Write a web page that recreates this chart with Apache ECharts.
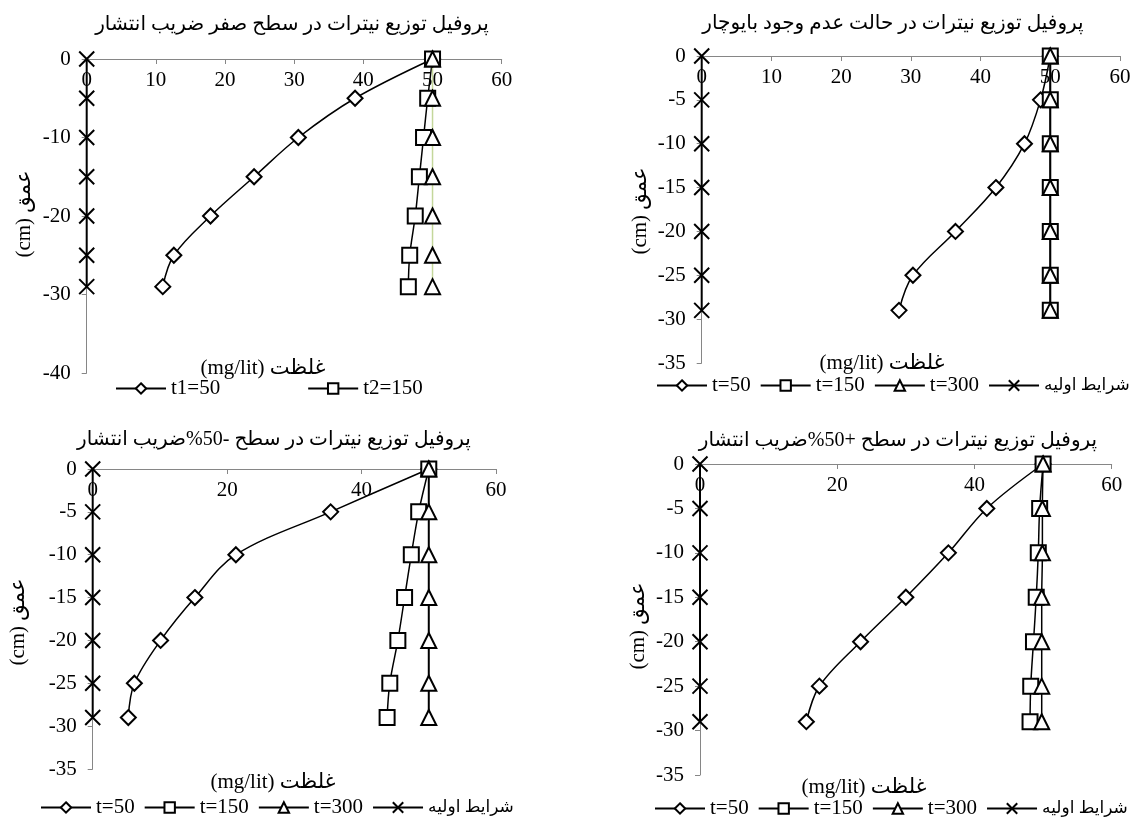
<!DOCTYPE html>
<html>
<head>
<meta charset="utf-8">
<script src="https://cdn.jsdelivr.net/npm/echarts@6/dist/echarts.min.js"></script>
<style>
  html, body { margin: 0; padding: 0; background: #fff; }
  #chart { width: 1133px; height: 818px; }
</style>
</head>
<body>
<div id="chart"></div>
<script>
// Sampling depths (cm), shared by every profile
const depths = [0, -5, -10, -15, -20, -25, -29];

// Nitrate concentration (mg/lit) – zero diffusion coefficient level
const zeroT50  = [50, 38.8, 30.6, 24.2, 17.9, 12.6, 11.0];
const zeroT150 = [50, 49.3, 48.7, 48.1, 47.5, 46.7, 46.5];
const zeroT300 = [50, 50, 50, 50, 50, 50, 50];
const zeroInit = [0, 0, 0, 0, 0, 0, 0];

// Without biochar
const noBioT50  = [50, 48.6, 46.3, 42.2, 36.4, 30.3, 28.3];
const noBioT150 = [50, 50, 50, 50, 50, 50, 50];
const noBioT300 = [50, 50, 50, 50, 50, 50, 50];
const noBioInit = [0, 0, 0, 0, 0, 0, 0];

// Diffusion coefficient -50%
const minusT50  = [50, 35.4, 21.3, 15.2, 10.1, 6.2, 5.3];
const minusT150 = [50, 48.5, 47.4, 46.4, 45.4, 44.2, 43.8];
const minusT300 = [50, 50, 50, 50, 50, 50, 50];
const minusInit = [0, 0, 0, 0, 0, 0, 0];

// Diffusion coefficient +50%
const plusT50  = [50, 41.8, 36.2, 30.0, 23.4, 17.4, 15.5];
const plusT150 = [50, 49.5, 49.3, 49.0, 48.6, 48.2, 48.1];
const plusT300 = [50, 49.9, 49.9, 49.8, 49.8, 49.8, 49.8];
const plusInit = [0, 0, 0, 0, 0, 0, 0];

// Texts
const panelTitles = [
  'پروفیل توزیع نیترات در سطح صفر ضریب انتشار',
  'پروفیل توزیع نیترات در حالت عدم وجود بایوچار',
  'پروفیل توزیع نیترات در سطح -50%ضریب انتشار',
  'پروفیل توزیع نیترات در سطح +50%ضریب انتشار'
];
const xAxisTitle = '(mg/lit) غلظت';
const yAxisTitle = '(cm) عمق';
const legendZero = ['t1=50', 't2=150'];
const legendMain = ['t=50', 't=150', 't=300', 'شرایط اولیه'];

// Axis ranges and tick steps per panel (TL, TR, BL, BR)
const xMin = 0, xMax = 60, yMax = 0;
const xSteps = [10, 10, 20, 20];
const yMins = [-40, -35, -35, -35];
const ySteps = [10, 5, 5, 5];

const FONT = '"Liberation Serif", "DejaVu Sans", serif';
const FS = 21;
const TITLE_FS = 20;
const AXIS_GRAY = '#868686';

// Panel placement on the page
const layout = [
  { grid: { left: 86.7, top: 59, width: 415, height: 314 },
    title: [292, 24.5], xTitle: [263, 368], yTitle: [24.4, 214],
    legend: { left: 115, top: 378, itemGap: 87 } },
  { grid: { left: 701.7, top: 56, width: 418.3, height: 307 },
    title: [893, 24], xTitle: [882, 363], yTitle: [640.4, 211],
    legend: { left: 656, top: 375, itemGap: 9 } },
  { grid: { left: 92.7, top: 469, width: 403.3, height: 300 },
    title: [274, 439.5], xTitle: [273, 782], yTitle: [18.5, 622],
    legend: { left: 40, top: 797, itemGap: 9 } },
  { grid: { left: 700, top: 464, width: 411.7, height: 311 },
    title: [898, 441], xTitle: [864, 787], yTitle: [638.9, 626],
    legend: { left: 654, top: 798, itemGap: 9 } }
];

const CROSS = 'path://M0,0L10,10M10,0L0,10';

function pairs(vals) {
  return vals.map((v, i) => [v, depths[i]]);
}

function profile(name, idx, vals, symbol, extra) {
  return Object.assign({
    type: 'line',
    name: name,
    xAxisIndex: idx,
    yAxisIndex: idx,
    data: pairs(vals),
    symbol: symbol,
    symbolSize: 15,
    smooth: 0.35,
    clip: false,
    lineStyle: { color: '#000', width: 1.5 },
    itemStyle: { color: '#fff', borderColor: '#000', borderWidth: 2 },
    emphasis: { disabled: true },
    animation: false
  }, extra || {});
}

const thick = { lineStyle: { color: '#000', width: 2 } };

const series = [
  // zero diffusion coefficient
  profile('t1=50', 0, zeroT50, 'diamond'),
  profile('t2=150', 0, zeroT150, 'rect'),
  profile('t3=300', 0, zeroT300, 'triangle', { lineStyle: { color: '#c4d79b', width: 1.5 } }),
  profile('init-0', 0, zeroInit, CROSS, thick),
  // no biochar
  profile('t=50', 1, noBioT50, 'diamond'),
  profile('t=150', 1, noBioT150, 'rect', thick),
  profile('t=300', 1, noBioT300, 'triangle'),
  profile('شرایط اولیه', 1, noBioInit, CROSS, thick),
  // -50%
  profile('t=50', 2, minusT50, 'diamond'),
  profile('t=150', 2, minusT150, 'rect'),
  profile('t=300', 2, minusT300, 'triangle', thick),
  profile('شرایط اولیه', 2, minusInit, CROSS, thick),
  // +50%
  profile('t=50', 3, plusT50, 'diamond'),
  profile('t=150', 3, plusT150, 'rect'),
  profile('t=300', 3, plusT300, 'triangle'),
  profile('شرایط اولیه', 3, plusInit, CROSS, thick)
];

// Persian legend entries are set a little smaller so the row fits its panel
const isPersian = s => /[\u0600-\u06FF]/.test(s);

const option = {
  backgroundColor: '#fff',
  animation: false,
  title: layout.map((p, i) => ({
    text: panelTitles[i],
    left: p.title[0],
    top: p.title[1],
    textAlign: 'center',
    textVerticalAlign: 'middle',
    padding: 0,
    textStyle: { fontFamily: FONT, fontSize: TITLE_FS, fontWeight: 'normal', color: '#000' }
  })),
  grid: layout.map(p => Object.assign({ containLabel: false, outerBoundsMode: 'none' }, p.grid)),
  xAxis: layout.map((p, i) => ({
    type: 'value',
    gridIndex: i,
    position: 'top',
    min: xMin,
    max: xMax,
    interval: xSteps[i],
    axisLine: { show: true, onZero: false, lineStyle: { color: AXIS_GRAY, width: 1 } },
    axisTick: { show: true, inside: true, length: 5, lineStyle: { color: AXIS_GRAY } },
    axisLabel: { show: true, inside: true, margin: 11, showMinLabel: true, showMaxLabel: true,
      fontFamily: FONT, fontSize: FS, color: '#000' },
    splitLine: { show: false }
  })),
  yAxis: layout.map((p, i) => ({
    type: 'value',
    gridIndex: i,
    min: yMins[i],
    max: yMax,
    interval: ySteps[i],
    axisLine: { show: true, onZero: false, lineStyle: { color: AXIS_GRAY, width: 1 } },
    axisTick: { show: true, inside: false, length: 5, lineStyle: { color: AXIS_GRAY } },
    axisLabel: { show: true, margin: 16, showMinLabel: true, showMaxLabel: true,
      fontFamily: FONT, fontSize: FS, color: '#000' },
    splitLine: { show: false }
  })),
  legend: layout.map((p, i) => ({
    data: i === 0 ? legendZero : legendMain,
    left: p.legend.left,
    top: p.legend.top,
    orient: 'horizontal',
    itemGap: p.legend.itemGap,
    itemWidth: 50,
    itemHeight: 13,
    padding: 0,
    selectedMode: false,
    formatter: name => isPersian(name) ? '{fa|' + name + '}' : name,
    textStyle: {
      fontFamily: FONT, fontSize: FS, color: '#000',
      rich: { fa: { fontFamily: FONT, fontSize: 17, color: '#000' } }
    }
  })),
  graphic: layout.flatMap(p => [
    { type: 'text', x: p.xTitle[0], y: p.xTitle[1],
      style: { text: xAxisTitle, font: FS + 'px ' + FONT, fill: '#000',
        align: 'center', verticalAlign: 'middle', textAlign: 'center', textVerticalAlign: 'middle' } },
    { type: 'text', x: p.yTitle[0], y: p.yTitle[1], rotation: Math.PI / 2,
      style: { text: yAxisTitle, font: FS + 'px ' + FONT, fill: '#000',
        align: 'center', verticalAlign: 'middle', textAlign: 'center', textVerticalAlign: 'middle' } }
  ]),
  series: series
};

const chart = echarts.init(document.getElementById('chart'), null, { renderer: 'canvas' });
chart.setOption(option);
</script>
</body>
</html>
